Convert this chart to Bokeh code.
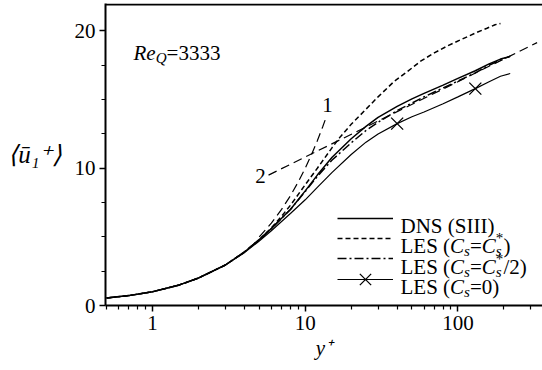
from bokeh.plotting import figure
from bokeh.models import (Range1d, FixedTicker, BasicTickFormatter, Span, Label,
                          Legend, LegendItem)
from bokeh.embed import file_html
from bokeh.resources import INLINE

# ---- data: mean streamwise velocity <u1+> against wall distance y+ ----
yp_dns = [0.5, 0.7, 1, 1.5, 2, 3, 4, 5, 6, 7, 8, 10, 12, 15, 20, 25, 30, 40, 50, 60,
          80, 100, 130, 160, 190, 220]
u_dns = [0.55, 0.72, 1.0, 1.5, 2.0, 2.95, 3.9, 4.8, 5.6, 6.35, 7.0, 8.35, 9.5, 10.8,
         12.15, 13.05, 13.7, 14.5, 15.05, 15.45, 16.05, 16.55, 17.1, 17.6, 17.95, 18.15]

yp_les = [0.5, 0.7, 1, 1.5, 2, 3, 4, 5, 6, 7, 8, 10, 12, 15, 17, 20, 25, 30, 38, 50,
          57, 70, 85, 104, 130, 155, 175, 190]
u_les = [0.55, 0.72, 1.0, 1.5, 2.0, 2.95, 3.9, 4.8, 5.65, 6.5, 7.3, 8.8, 10.0, 11.5,
         12.3, 13.2, 14.3, 15.2, 16.3, 17.3, 17.8, 18.4, 18.9, 19.35, 19.85, 20.2,
         20.45, 20.55]

yp_half = [0.5, 0.7, 1, 1.5, 2, 3, 4, 5, 6, 7, 8, 10, 12, 15, 20, 25, 30, 40, 50, 60,
           80, 100, 130, 160, 190, 220]
u_half = [0.55, 0.72, 1.0, 1.5, 2.0, 2.95, 3.9, 4.8, 5.6, 6.35, 7.0, 8.3, 9.4, 10.6,
          11.85, 12.75, 13.35, 14.2, 14.75, 15.2, 15.85, 16.35, 16.95, 17.5, 17.9, 18.15]

yp_zero = [0.5, 0.7, 1, 1.5, 2, 3, 4, 5, 6, 8, 10, 12, 15, 20, 25, 30, 40, 50, 60,
           80, 100, 130, 160, 190, 220]
u_zero = [0.55, 0.72, 1.0, 1.5, 2.0, 2.95, 3.85, 4.7, 5.45, 6.7, 7.7, 8.6, 9.7, 11.0,
          11.9, 12.5, 13.25, 13.75, 14.1, 14.7, 15.2, 15.8, 16.3, 16.7, 16.9]
yp_zero_marks = [40, 130]
u_zero_marks = [13.25, 15.8]

# reference laws: (1) viscous sublayer u+ = y+, (2) logarithmic law
yp_law1 = [5, 6, 7, 8, 9, 10, 11, 12, 13, 13.8]
u_law1 = [5, 6, 7, 8, 9, 10, 11, 12, 13, 13.8]
yp_law2 = [5.75, 330]
u_law2 = [9.5, 19.15]

x_major = [1, 10, 100]
x_minor = [0.5, 0.6, 0.7, 0.8, 0.9, 2, 3, 4, 5, 6, 7, 8, 9,
           20, 30, 40, 50, 60, 70, 80, 90, 200, 300]
y_major = [0, 10, 20]
y_minor = [2.5, 5, 7.5, 12.5, 15, 17.5]

SERIF = "'Liberation Serif', 'Times New Roman', serif"
FS = 21  # main text size in px
LEFT, BOTTOM = 105, 65
FRAME_B = 370 - BOTTOM  # page y of the frame bottom

p = figure(width=542, height=370, x_axis_type="log",
           x_range=Range1d(0.492, 358), y_range=Range1d(0, 22),
           output_backend="svg", toolbar_location=None,
           min_border_left=LEFT, min_border_right=0, min_border_top=3,
           min_border_bottom=BOTTOM)
p.outline_line_color = None
p.background_fill_color = "white"
p.border_fill_color = "white"
p.xgrid.visible = False
p.ygrid.visible = False

for ax in (p.xaxis[0], p.yaxis[0]):
    ax.axis_line_width = 2
    ax.axis_line_color = "black"
    ax.major_tick_in = 0
    ax.major_tick_out = 6
    ax.minor_tick_in = 0
    ax.minor_tick_out = 4
    ax.major_tick_line_width = 1.5
    ax.minor_tick_line_width = 1.2
    ax.major_tick_line_color = "black"
    ax.minor_tick_line_color = "black"
    ax.major_label_text_font = SERIF
    ax.major_label_text_font_size = f"{FS}px"
    ax.major_label_text_color = "black"
    ax.major_label_standoff = 4
    ax.formatter = BasicTickFormatter()
    ax.axis_label_text_font = SERIF
    ax.axis_label_text_color = "black"
    ax.axis_label_text_font_style = "italic"

p.xaxis[0].ticker = FixedTicker(ticks=x_major, minor_ticks=x_minor)
p.yaxis[0].ticker = FixedTicker(ticks=y_major, minor_ticks=y_minor)
p.xaxis[0].axis_label = "y\u207a"
p.xaxis[0].axis_label_text_font_size = f"{FS}px"
p.xaxis[0].axis_label_standoff = 3
p.yaxis[0].axis_label = "\u27e8\u016b\u2081\u207a\u27e9"
p.yaxis[0].axis_label_text_font_size = "25px"
p.yaxis[0].axis_label_orientation = "horizontal"
p.yaxis[0].axis_label_standoff = 9

# top border of the frame
p.add_layout(Span(location=21.93, dimension="width", line_color="black", line_width=2))

# curves
r_dns = p.line(yp_dns, u_dns, line_color="black", line_width=1.5)
r_les = p.line(yp_les, u_les, line_color="black", line_width=1.5, line_dash="5 3")
r_half = p.line(yp_half, u_half, line_color="black", line_width=1.5,
                line_dash="9 3 2 3")
r_zero = p.line(yp_zero, u_zero, line_color="black", line_width=1.2)
r_zero_m = p.scatter(yp_zero_marks, u_zero_marks, marker="x", size=17,
                     line_color="black", line_width=1.3)
p.line(yp_law1, u_law1, line_color="black", line_width=1.2, line_dash="9 5")
p.line(yp_law2, u_law2, line_color="black", line_width=1.2, line_dash="9 5")

for txt, xx, yy in (("1", 14.0, 14.64), ("2", 5.1, 9.47)):
    p.add_layout(Label(x=xx, y=yy, text=txt, text_font=SERIF,
                       text_font_size=f"{FS}px", text_align="center",
                       text_baseline="middle", text_color="black"))

# legend samples (texts are set separately as rich text)
legend_style = dict(glyph_width=56, label_height=20, label_text_font_size="4px",
                    spacing=0, padding=0, margin=0, border_line_color=None,
                    background_fill_alpha=0, label_standoff=0)
p.add_layout(Legend(items=[
    LegendItem(label=" ", renderers=[r_dns]),
    LegendItem(label=" ", renderers=[r_les]),
    LegendItem(label=" ", renderers=[r_half]),
], location=(232, 37), glyph_height=20, **legend_style))
# the marker row gets a taller glyph box so the cross is drawn larger
p.add_layout(Legend(items=[
    LegendItem(label=" ", renderers=[r_zero, r_zero_m]),
], location=(232, 6), glyph_height=40, **legend_style))

# ---- rich text helper (Times-metric advance widths, per em) ----
REG = {" ": .25, "(": .333, ")": .333, "*": .5, "/": .278, "=": .564, "+": .564,
       "D": .722, "E": .611, "I": .333, "L": .611, "N": .722, "S": .556}
ITA = {"C": .667, "s": .389, "R": .611, "e": .444, "Q": .722, "u": .5, "y": .444}


def width(txt, italic):
    table = ITA if italic else REG
    return sum(table.get(c, .5) for c in txt)


def rich(page_x, page_y, parts):
    """parts: (text, italic, scale, dy_px, advance)"""
    x = page_x - LEFT
    y = FRAME_B - page_y
    for txt, italic, scale, dy, adv in parts:
        size = FS * scale
        p.add_layout(Label(x=x, y=y + dy, x_units="screen", y_units="screen",
                           text=txt, text_font=SERIF, text_font_size=f"{size:.1f}px",
                           text_font_style="italic" if italic else "normal",
                           text_align="left", text_baseline="alphabetic",
                           text_color="black"))
        if adv:
            x += width(txt, italic) * size


SUB = (0.72, -5)
SUP = (0.72, 8)


def cs_part():
    return [("C", True, 1, 0, True), ("s", True, SUB[0], SUB[1], True)]


def cs_star_part():
    return [("C", True, 1, 0, True), ("s", True, SUB[0], SUB[1], False),
            ("*", False, SUP[0], SUP[1], True)]


row_y = [225, 245.5, 266, 286]
tx = 400
rich(tx, row_y[0], [("DNS (SIII)", False, 1, 0, True)])
rich(tx, row_y[1], [("LES (", False, 1, 0, True)] + cs_part() +
     [("=", False, 1, 0, True)] + cs_star_part() + [(")", False, 1, 0, True)])
rich(tx, row_y[2], [("LES (", False, 1, 0, True)] + cs_part() +
     [("=", False, 1, 0, True)] + cs_star_part() + [("/2)", False, 1, 0, True)])
rich(tx, row_y[3], [("LES (", False, 1, 0, True)] + cs_part() +
     [("=0)", False, 1, 0, True)])

# Reynolds number note
rich(133, 52, [("Re", True, 1, 0, True), ("Q", True, SUB[0], SUB[1], True),
               ("=3333", False, 1, 0, True)])

open("out.html", "w").write(file_html(p, INLINE))
